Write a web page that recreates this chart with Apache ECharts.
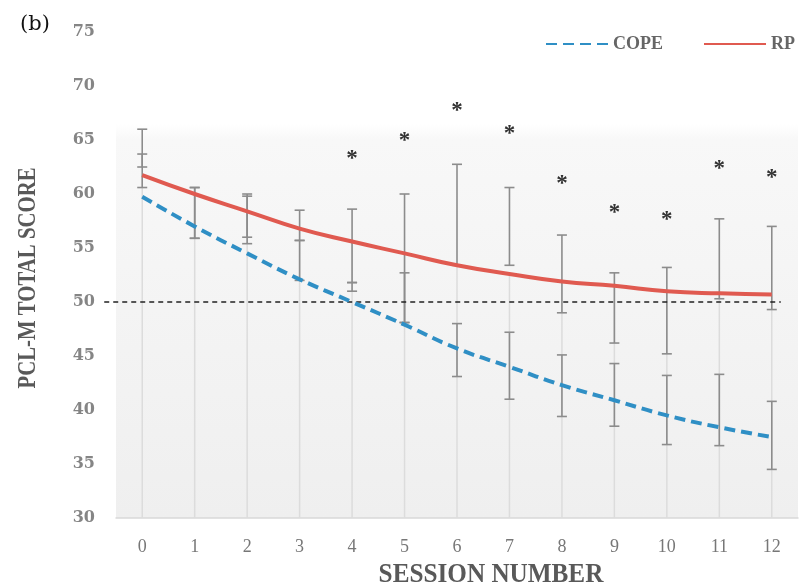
<!DOCTYPE html>
<html>
<head>
<meta charset="utf-8">
<script src="https://cdn.jsdelivr.net/npm/echarts@6/dist/echarts.min.js"></script>
<style>
  html, body { margin: 0; padding: 0; background: #fff; }
  #chart { width: 809px; height: 588px; }
</style>
</head>
<body>
<div id="chart"></div>
<script>
// session numbers on the x axis
var sessions = ["0", "1", "2", "3", "4", "5", "6", "7", "8", "9", "10", "11", "12"];

// mean PCL-M score per session
var copeMean = [59.75, 57.0, 54.5, 52.1, 50.0, 47.9, 45.7, 44.0, 42.3, 40.9, 39.5, 38.4, 37.5];
var rpMean = [61.75, 60.0, 58.4, 56.8, 55.6, 54.5, 53.4, 52.6, 51.9, 51.5, 51.0, 50.8, 50.7];

// error bar ranges (low / high)
var rpErrLow = [60.6, 55.9, 56.0, 55.7, 51.8, 48.1, 53.4, 53.4, 49.0, 46.2, 45.2, 50.3, 49.3];
var rpErrHigh = [63.7, 60.6, 60.0, 58.5, 58.6, 60.0, 62.75, 60.6, 56.2, 52.7, 53.2, 57.7, 57.0];
var copeErrLow = [62.5, 55.9, 55.4, 52.0, 51.0, 48.1, 43.1, 41.0, 39.4, 38.5, 36.8, 36.7, 34.5];
var copeErrHigh = [66.0, 60.6, 59.8, 55.7, 51.8, 52.7, 48.0, 47.2, 45.1, 44.3, 43.2, 43.3, 40.8];

// significance markers (null = none)
var starY = [null, null, null, null, 63.8, 65.5, 68.2, 66.1, 61.5, 58.8, 58.1, 62.9, 62.0];

// clinical cut-off
var cutoff = 50;

// y axis range
var yMin = 30, yMax = 75, yStep = 5;

var serif = '"Liberation Serif", serif';

/**
 * draw vertical error bar with caps
 */
function errorBarItem(params, api) {
  var i = api.value(0);
  var lo = api.coord([i, api.value(1)]);
  var hi = api.coord([i, api.value(2)]);
  var half = 5;
  var style = { stroke: "#8c8c8c", lineWidth: 1.6 };
  return {
    type: "group",
    children: [
      { type: "line", shape: { x1: lo[0], y1: lo[1], x2: hi[0], y2: hi[1] }, style: style },
      { type: "line", shape: { x1: hi[0] - half, y1: hi[1], x2: hi[0] + half, y2: hi[1] }, style: style },
      { type: "line", shape: { x1: lo[0] - half, y1: lo[1], x2: lo[0] + half, y2: lo[1] }, style: style }
    ]
  };
}

/**
 * drop line from the top point down to the axis
 */
function dropLineItem(params, api) {
  var i = api.value(0);
  var top = api.coord([i, api.value(1)]);
  var bottom = api.coord([i, yMin]);
  return {
    type: "line",
    shape: { x1: top[0], y1: top[1], x2: bottom[0], y2: bottom[1] },
    style: { stroke: "#dcdcdc", lineWidth: 1.5 }
  };
}

/**
 * dashed cut-off line, runs a bit past the first and last session
 */
function cutoffItem(params, api) {
  var a = api.coord([0, api.value(0)]);
  var b = api.coord([sessions.length - 1, api.value(0)]);
  return {
    type: "line",
    shape: { x1: a[0] - 38, y1: a[1], x2: b[0] + 9, y2: b[1] },
    style: { stroke: "#222", lineWidth: 1.6, lineDash: [5, 4] }
  };
}

function starItem(params, api) {
  var p = api.coord([api.value(0), api.value(1)]);
  return {
    type: "text",
    x: p[0],
    y: p[1] + 6,
    style: {
      text: "*",
      font: "bold 23px " + serif,
      fill: "#333",
      align: "center",
      verticalAlign: "middle"
    }
  };
}

function pairs(lo, hi) {
  return sessions.map(function (s, i) { return [i, lo[i], hi[i]]; });
}

var chart = echarts.init(document.getElementById("chart"));

var option = {
  animation: false,
  backgroundColor: "#fff",
  grid: {
    left: 116, right: 11, top: 32, bottom: 70,
    show: true,
    borderWidth: 0,
    backgroundColor: new echarts.graphic.LinearGradient(0, 0, 0, 1, [
      { offset: 0, color: "#ffffff" },
      { offset: 0.19, color: "#ffffff" },
      { offset: 0.22, color: "#f8f8f8" },
      { offset: 1, color: "#efefef" }
    ])
  },
  legend: {
    right: 9,
    top: 30,
    itemWidth: 62,
    itemHeight: 14,
    itemGap: 40,
    textStyle: { fontFamily: serif, fontWeight: "bold", fontSize: 18, color: "#666" },
    data: [
      { name: "COPE", itemStyle: { opacity: 0 } },
      { name: "RP", itemStyle: { opacity: 0 } }
    ]
  },
  xAxis: {
    type: "category",
    data: sessions,
    boundaryGap: true,
    axisLine: { lineStyle: { color: "#d9d9d9", width: 1.5 } },
    axisTick: { show: false },
    axisLabel: { fontFamily: serif, fontSize: 18, color: "#777", margin: 20 },
    splitLine: { show: false }
  },
  yAxis: {
    type: "value",
    min: yMin,
    max: yMax,
    interval: yStep,
    axisLine: { show: false },
    axisTick: { show: false },
    splitLine: { show: false },
    axisLabel: { fontFamily: "DejaVu Serif", fontWeight: "bold", fontSize: 16, color: "#858585", margin: 21 }
  },
  graphic: [
    { type: "text", left: 20, top: 14, style: { text: "(b)", font: "21px DejaVu Serif", fill: "#111" } },
    {
      type: "text", x: 28, y: 278, rotation: Math.PI / 2, scaleX: 0.8,
      style: { text: "PCL-M TOTAL SCORE", font: "bold 26px " + serif, fill: "#595959", align: "center", verticalAlign: "middle" }
    },
    {
      type: "text", x: 491, y: 575, scaleX: 0.9,
      style: { text: "SESSION NUMBER", font: "bold 28px " + serif, fill: "#595959", align: "center", verticalAlign: "middle" }
    }
  ],
  series: [
    {
      type: "custom",
      name: "drop",
      renderItem: dropLineItem,
      data: sessions.map(function (s, i) { return [i, rpMean[i]]; }),
      z: 1,
      silent: true
    },
    {
      type: "custom",
      name: "rpErr",
      renderItem: errorBarItem,
      encode: { x: 0, y: [1, 2] },
      data: pairs(rpErrLow, rpErrHigh),
      z: 2,
      silent: true
    },
    {
      type: "custom",
      name: "copeErr",
      renderItem: errorBarItem,
      encode: { x: 0, y: [1, 2] },
      data: pairs(copeErrLow, copeErrHigh),
      z: 2,
      silent: true
    },
    {
      type: "custom",
      name: "cutoff",
      renderItem: cutoffItem,
      encode: { y: 0 },
      data: [[cutoff]],
      z: 4,
      silent: true
    },
    {
      type: "custom",
      name: "stars",
      renderItem: starItem,
      data: starY.map(function (v, i) { return [i, v]; }).filter(function (d) { return d[1] !== null; }),
      z: 3,
      silent: true
    },
    {
      name: "COPE",
      type: "line",
      data: copeMean,
      smooth: true,
      showSymbol: false,
      symbol: "none",
      lineStyle: { color: "#2f8fc5", width: 4, type: [11, 6] },
      itemStyle: { color: "#2f8fc5" },
      z: 5
    },
    {
      name: "RP",
      type: "line",
      data: rpMean,
      smooth: true,
      showSymbol: false,
      symbol: "none",
      lineStyle: { color: "#e05a50", width: 4 },
      itemStyle: { color: "#e05a50" },
      z: 5
    }
  ]
};

chart.setOption(option);
</script>
</body>
</html>
